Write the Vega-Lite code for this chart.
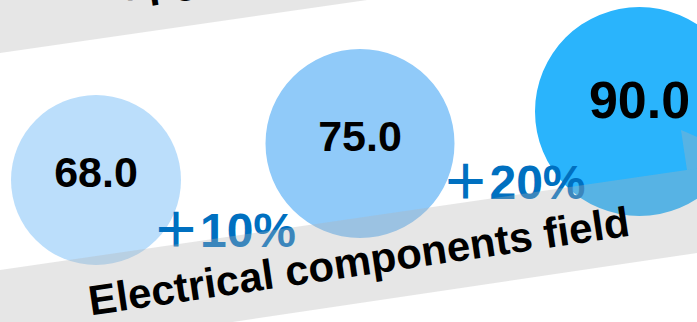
{
  "$schema": "https://vega.github.io/schema/vega-lite/v6.json",
  "width": 697,
  "height": 322,
  "autosize": {"type": "fit", "contains": "padding"},
  "padding": 0,
  "background": "white",
  "config": {"view": {"stroke": null}},
  "datasets": {
    "circles": [
      {"stage": "Stage 1", "value": 68, "label": "68.0", "cx": 96, "cy": 180, "ty": 187},
      {"stage": "Stage 2", "value": 75, "label": "75.0", "cx": 360, "cy": 143.5, "ty": 151},
      {"stage": "Stage 3", "value": 90, "label": "90.0", "cx": 639.5, "cy": 111.5, "ty": 118}
    ],
    "changes": [
      {"label": "＋10%", "x": 224, "y": 247},
      {"label": "＋20%", "x": 513.5, "y": 199}
    ],
    "bands": [
      {"band": "upper", "x": 0, "top": -60, "bottom": 53},
      {"band": "upper", "x": 697, "top": -161, "bottom": -47.6},
      {"band": "lower", "x": 0, "top": 270, "bottom": 356.6},
      {"band": "lower", "x": 697, "top": 168.6, "bottom": 253}
    ],
    "arrowhead": [
      {"x": 681, "top": 130, "bottom": 130},
      {"x": 687, "top": 132.6, "bottom": 170},
      {"x": 697, "top": 137, "bottom": 168.5}
    ],
    "bandLabels": [
      {"label": "Upgrade path", "x": 252.5, "y": -17.9},
      {"label": "Electrical components field", "x": 361, "y": 275.5}
    ]
  },
  "layer": [
    {
      "data": {"name": "circles"},
      "mark": {"type": "circle", "opacity": 1, "strokeWidth": 0, "clip": true},
      "encoding": {
        "x": {"field": "cx", "type": "quantitative", "scale": {"domain": [0, 697], "nice": false, "zero": false}, "axis": null},
        "y": {"field": "cy", "type": "quantitative", "scale": {"domain": [0, 322], "nice": false, "zero": false, "reverse": true}, "axis": null},
        "size": {"field": "value", "type": "quantitative", "scale": {"type": "linear", "domain": [68, 75, 90], "range": [28900, 35721, 43681], "zero": false}, "legend": null},
        "color": {"field": "stage", "type": "nominal", "scale": {"domain": ["Stage 1", "Stage 2", "Stage 3"], "range": ["#BBDEFB", "#90CAF9", "#2AB4FC"]}, "legend": null}
      }
    },
    {
      "data": {"name": "circles"},
      "mark": {"type": "text", "font": "Liberation Sans", "fontWeight": "bold", "align": "center", "baseline": "alphabetic", "color": "#000000", "clip": true},
      "encoding": {
        "x": {"field": "cx", "type": "quantitative", "scale": {"domain": [0, 697], "nice": false, "zero": false}, "axis": null},
        "y": {"field": "ty", "type": "quantitative", "scale": {"domain": [0, 322], "nice": false, "zero": false, "reverse": true}, "axis": null},
        "text": {"field": "label", "type": "nominal"},
        "size": {"field": "value", "type": "quantitative", "scale": {"type": "threshold", "domain": [80], "range": [43, 52]}, "legend": null}
      }
    },
    {
      "data": {"name": "changes"},
      "mark": {"type": "text", "font": "Liberation Sans, Noto Sans CJK SC", "fontWeight": "bold", "fontSize": 48, "align": "center", "baseline": "alphabetic", "color": "#0070C0", "clip": true},
      "encoding": {
        "x": {"field": "x", "type": "quantitative", "scale": {"domain": [0, 697], "nice": false, "zero": false}, "axis": null},
        "y": {"field": "y", "type": "quantitative", "scale": {"domain": [0, 322], "nice": false, "zero": false, "reverse": true}, "axis": null},
        "text": {"field": "label", "type": "nominal"}
      }
    },
    {
      "data": {"name": "bands"},
      "mark": {"type": "area", "color": "#b4b4b4", "opacity": 0.33, "clip": true, "interpolate": "linear"},
      "encoding": {
        "x": {"field": "x", "type": "quantitative", "scale": {"domain": [0, 697], "nice": false, "zero": false}, "axis": null},
        "y": {"field": "top", "type": "quantitative", "scale": {"domain": [0, 322], "nice": false, "zero": false, "reverse": true}, "axis": null},
        "y2": {"field": "bottom"},
        "detail": {"field": "band", "type": "nominal"}
      }
    },
    {
      "data": {"name": "arrowhead"},
      "mark": {"type": "area", "color": "#b4b4b4", "opacity": 0.33, "clip": true, "interpolate": "linear"},
      "encoding": {
        "x": {"field": "x", "type": "quantitative", "scale": {"domain": [0, 697], "nice": false, "zero": false}, "axis": null},
        "y": {"field": "top", "type": "quantitative", "scale": {"domain": [0, 322], "nice": false, "zero": false, "reverse": true}, "axis": null},
        "y2": {"field": "bottom"}
      }
    },
    {
      "data": {"name": "bandLabels"},
      "mark": {"type": "text", "font": "Liberation Sans", "fontWeight": "bold", "fontSize": 42, "align": "center", "baseline": "alphabetic", "angle": -8.4, "color": "#000000", "clip": true},
      "encoding": {
        "x": {"field": "x", "type": "quantitative", "scale": {"domain": [0, 697], "nice": false, "zero": false}, "axis": null},
        "y": {"field": "y", "type": "quantitative", "scale": {"domain": [0, 322], "nice": false, "zero": false, "reverse": true}, "axis": null},
        "text": {"field": "label", "type": "nominal"}
      }
    }
  ]
}
